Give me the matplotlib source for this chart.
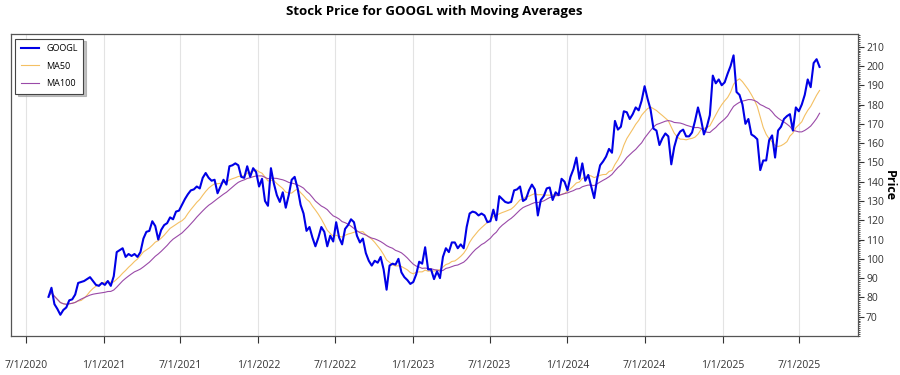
import pandas as pd
import matplotlib
matplotlib.use("Agg")
import matplotlib.pyplot as plt
import matplotlib.dates as mdates
from matplotlib.ticker import MultipleLocator, FuncFormatter

plt.rcParams['font.family'] = ['Open Sans', 'DejaVu Sans']

# weekly closes (week starting 2020-08-24)
start_date = "2020-08-24"
prices_2020 = [80.3, 85.0, 76.5, 74.0, 71.0, 73.5, 74.8, 78.5, 79.0, 81.5,
               87.5, 88.0, 88.5, 89.5, 90.5, 88.5, 86.5, 86.0, 87.5]
prices_2021 = [86.5, 88.5, 86.0, 91.0,
               103.5, 104.5, 105.5, 101.0,
               102.5, 101.5, 102.5, 101.0, 103.5,
               110.5, 114.0, 114.5, 119.5,
               117.0, 110.0, 115.0, 117.5, 118.5,
               121.5, 120.5, 124.5, 125.0,
               128.0, 131.0, 133.5, 135.5,
               136.0, 137.5, 136.5, 142.0, 144.5,
               142.0, 140.5, 141.0, 134.0,
               137.5, 141.0, 138.5, 148.0,
               148.5, 149.5, 148.5, 142.5, 142.0,
               148.0, 142.5, 147.0, 145.0]
prices_2022 = [137.5, 141.5, 130.0, 127.5, 147.0,
               139.0, 133.0, 129.5, 134.5,
               126.5, 133.0, 141.0, 142.5,
               136.5, 128.0, 123.5, 114.5,
               116.5, 111.0, 106.5, 111.0, 116.5,
               114.0, 106.5, 112.0, 109.0,
               119.0, 111.0, 107.5, 115.5,
               117.5, 120.5, 119.0, 112.0, 108.5,
               110.5, 103.0, 99.0, 96.5,
               99.0, 98.0, 101.0, 94.5, 84.0,
               96.5, 97.5, 97.0, 100.0,
               93.0, 90.5, 89.0, 87.0]
prices_2023 = [88.0, 92.0, 98.5, 97.5, 106.0,
               94.5, 94.5, 89.5, 93.5,
               90.0, 101.0, 105.5, 103.5,
               108.5, 108.5, 105.5, 107.5,
               105.5, 116.5, 123.5, 124.5, 124.0,
               122.5, 123.5, 122.5, 119.0,
               119.5, 125.5, 120.0, 132.5, 131.0,
               129.5, 129.0, 129.5, 135.5,
               136.0, 137.5, 130.0, 131.0,
               135.5, 138.5, 136.0, 122.5, 130.5,
               132.5, 136.5, 137.0, 130.5,
               134.5, 133.0, 141.5, 140.0]
prices_2024 = [135.5, 142.5, 146.5, 152.5, 141.5,
               149.5, 140.5, 143.5, 137.5,
               131.5, 141.5, 148.5, 150.5,
               153.0, 157.0, 155.0, 171.5, 167.0,
               168.5, 176.5, 176.0, 172.5,
               175.0, 178.5, 177.0, 182.0,
               189.5, 183.0, 177.5, 167.5, 166.5,
               159.0, 162.5, 165.0, 163.5,
               149.0, 158.0, 163.5, 166.0, 167.0,
               163.5, 163.5, 165.5, 171.5,
               178.5, 172.5, 164.5, 168.5,
               174.5, 195.0, 191.0, 193.0, 190.0]
prices_2025 = [191.5, 196.0, 200.0, 205.5,
               186.5, 185.0, 180.0, 170.0,
               172.5, 164.5, 163.5, 162.0, 146.0,
               151.0, 151.0, 161.5, 164.0,
               152.5, 166.5, 168.5, 172.5,
               174.0, 175.0, 166.5, 178.5, 176.5,
               180.0, 185.0, 193.0, 189.0,
               201.5, 203.5, 199.5]

price_values = prices_2020 + prices_2021 + prices_2022 + prices_2023 + prices_2024 + prices_2025
dates = pd.date_range(start_date, periods=len(price_values), freq="7D")
price = pd.Series(price_values, index=dates)

# 50 / 100 trading days ~ 10 / 20 weeks
ma50 = price.rolling(10, min_periods=1).mean()
ma100 = price.rolling(20, min_periods=1).mean()

fig, ax = plt.subplots(figsize=(9, 3.75), dpi=100)
fig.subplots_adjust(left=0.012, right=0.953, top=0.909, bottom=0.104)

ax.plot(price.index, price.values, color="#0000e6", lw=1.5, label="GOOGL", zorder=3)
ax.plot(ma50.index, ma50.values, color="#f4c063", lw=0.8, label="MA50", zorder=2)
ax.plot(ma100.index, ma100.values, color="#9a4aa8", lw=0.8, label="MA100", zorder=2)

ax.set_xlim(pd.Timestamp("2020-05-27"), pd.Timestamp("2025-11-16"))
ax.set_ylim(60, 216.5)

# x axis: half-year ticks
tick_dates = pd.date_range("2020-07-01", "2025-07-01", freq="6MS")
ax.set_xticks(tick_dates)
ax.xaxis.set_major_formatter(FuncFormatter(
    lambda v, p: "{d.month}/{d.day}/{d.year}".format(d=mdates.num2date(v))))
ax.tick_params(axis="x", length=5, width=0.8, pad=12, labelsize=7.5, colors="#333333")
ax.grid(axis="x", color="#e3e3e3", lw=0.8)

# y axis on the right
ax.yaxis.tick_right()
ax.yaxis.set_label_position("right")
ax.set_yticks(range(70, 211, 10))
ax.yaxis.set_minor_locator(MultipleLocator(1))
ax.tick_params(axis="y", which="major", length=4, width=0.8, labelsize=7.5, colors="#333333", pad=2)
ax.tick_params(axis="y", which="minor", length=1.5, width=0.6, colors="#333333")
ax.set_ylabel("Price", rotation=270, fontsize=9, fontweight="bold", va="center")
ax.yaxis.set_label_coords(1.037, 0.5)

for s in ax.spines.values():
    s.set_color("#555555")
    s.set_linewidth(0.9)

ax.set_title("Stock Price for GOOGL with Moving Averages", fontsize=9.5,
             fontweight="bold", pad=14)

leg = ax.legend(loc="upper left", fontsize=6.5, frameon=True, fancybox=False,
                shadow={"ox": 2, "oy": -2, "color": "#999999", "alpha": 0.6},
                edgecolor="#444444", handlelength=2.0,
                borderaxespad=0.5, labelspacing=0.95, borderpad=0.6)
leg.get_frame().set_linewidth(0.8)

fig.savefig("out.png", dpi=100)
